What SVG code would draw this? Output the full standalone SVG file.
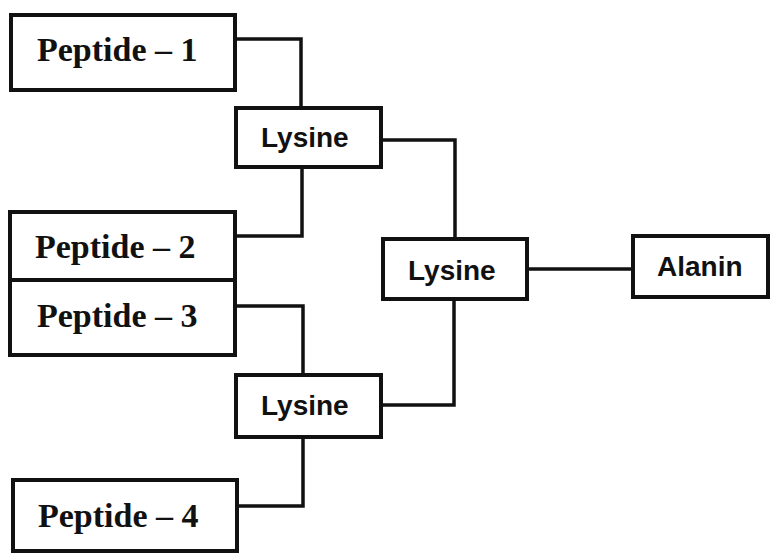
<svg xmlns="http://www.w3.org/2000/svg" width="771" height="555" viewBox="0 0 771 555">
<style>
.box{fill:#fff;stroke:#111;stroke-width:4}
.pep{font-family:"Liberation Serif","Times New Roman",serif;font-weight:bold;font-size:34px;fill:#111}
.ami{font-family:"Liberation Sans",Arial,sans-serif;font-weight:bold;font-size:28px;fill:#111}
.con{fill:none;stroke:#111;stroke-width:3.5;stroke-linejoin:miter}
</style>
<rect width="771" height="555" fill="#fff"/>
<g id="connectors">
<polyline class="con" points="235,39 301,39 301,108"/>
<polyline class="con" points="302,167 302,236 235,236"/>
<polyline class="con" points="235,306 303,306 303,375"/>
<polyline class="con" points="303,437 303,506 237,506"/>
<polyline class="con" points="381,140 455,140 455,239"/>
<polyline class="con" points="454,299 454,405 381,405"/>
<line class="con" x1="527" y1="269" x2="633" y2="269"/>
</g>
<g id="peptide1"><rect class="box" x="11" y="15" width="224" height="75"/><text class="pep" x="37" y="61">Peptide – 1</text></g>
<g id="peptide2"><rect class="box" x="10" y="212" width="225" height="68"/><text class="pep" x="35" y="258">Peptide – 2</text></g>
<g id="peptide3"><rect class="box" x="10" y="280" width="225" height="75"/><text class="pep" x="37" y="327">Peptide – 3</text></g>
<g id="peptide4"><rect class="box" x="13" y="480" width="224" height="71"/><text class="pep" x="38" y="527">Peptide – 4</text></g>
<g id="lysine1"><rect class="box" x="236" y="108" width="145" height="59"/><text class="ami" x="261" y="147">Lysine</text></g>
<g id="lysine2"><rect class="box" x="383" y="239" width="144" height="60"/><text class="ami" x="408" y="280">Lysine</text></g>
<g id="lysine3"><rect class="box" x="236" y="375" width="145" height="62"/><text class="ami" x="261" y="415">Lysine</text></g>
<g id="alanin"><rect class="box" x="633" y="236" width="135" height="61"/><text class="ami" x="657" y="276">Alanin</text></g>
</svg>
